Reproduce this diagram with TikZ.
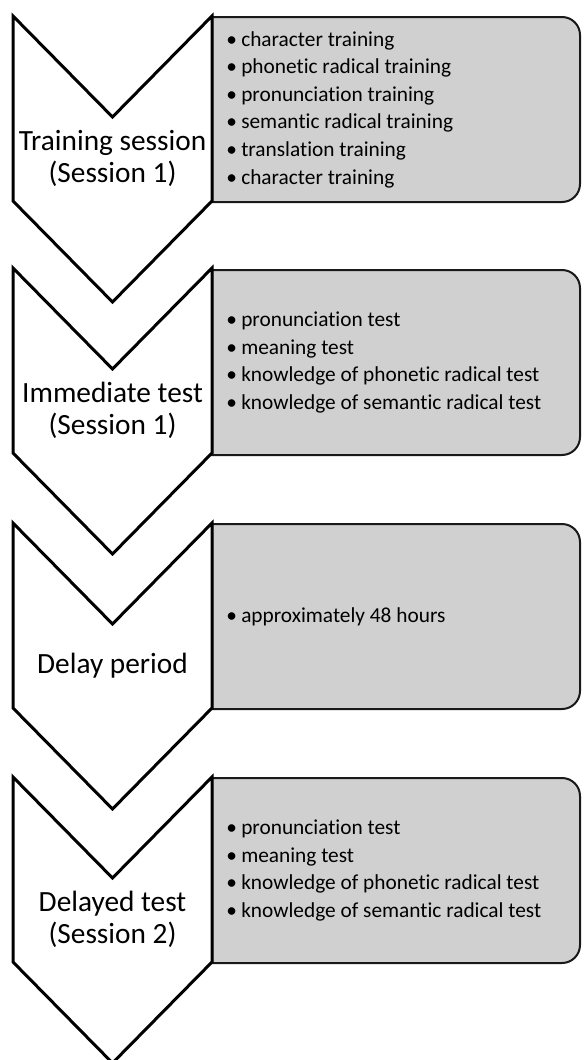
\documentclass[tikz,border=0pt]{standalone}
\usepackage{fontspec}
\setmainfont{Carlito}[Ligatures={NoCommon,NoContextual}]
\definecolor{boxgray}{RGB}{208,208,208}
\newcommand{\bitem}[1]{\makebox[11.25pt][l]{•}#1}
\tikzset{
  chev/.style={draw=black, line width=2.25pt, fill=white, line join=miter},
  infobox/.style={draw=black!90, line width=1.5pt, fill=boxgray},
  chevlabel/.style={align=center, inner sep=0pt, font=\fontsize{22}{24}\selectfont},
  boxtext/.style={anchor=west, align=left, inner sep=0pt, font=\fontsize{16}{20.7}\selectfont}
}
\begin{document}
\begin{tikzpicture}[x=0.75pt, y=-0.75pt]
\useasboundingbox (0,0) rectangle (585,1060);
% info boxes (drawn first)
\foreach \t in {17,270,524,778}{
  \draw[infobox] (212,\t) [rounded corners=13.5pt] -- (580,\t) -- (580,\t+185) [sharp corners] -- (212,\t+185) -- cycle;
}
% chevrons
\foreach \t in {16,268,523,777}{
  \draw[chev] (13,\t) -- (112.5,\t+101) -- (212,\t) -- (212,\t+185) -- (112.5,\t+286) -- (13,\t+185) -- cycle;
}
% chevron labels
\node[chevlabel] (l1) at (112.5,158.5) {Training session\\(Session 1)};
\node[chevlabel] (l2) at (112.5,410.5) {Immediate test\\(Session 1)};
\node[chevlabel] (l3) at (112.5,665.5) {Delay period};
\node[chevlabel] (l4) at (112.5,919.5) {Delayed test\\(Session 2)};
% box texts
\node[boxtext] (t1) at (226,109.5) {\bitem{character training}\\\bitem{phonetic radical training}\\\bitem{pronunciation training}\\\bitem{semantic radical training}\\\bitem{translation training}\\\bitem{character training}};
\node[boxtext] (t2) at (226,362.5) {\bitem{pronunciation test}\\\bitem{meaning test}\\\bitem{knowledge of phonetic radical test}\\\bitem{knowledge of semantic radical test}};
\node[boxtext] (t3) at (226,616.5) {\bitem{approximately 48 hours}};
\node[boxtext] (t4) at (226,870.5) {\bitem{pronunciation test}\\\bitem{meaning test}\\\bitem{knowledge of phonetic radical test}\\\bitem{knowledge of semantic radical test}};
\end{tikzpicture}
\end{document}
